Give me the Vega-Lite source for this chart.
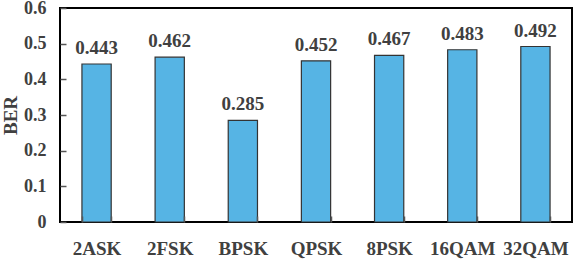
{
  "$schema": "https://vega.github.io/schema/vega-lite/v6.json",
  "autosize": "none",
  "width": 512,
  "height": 214,
  "padding": {"left": 60, "top": 8, "right": 2, "bottom": 37},
  "background": "white",
  "config": {
    "view": {"stroke": "#000000", "strokeWidth": 2},
    "font": "Liberation Serif"
  },
  "data": {
    "values": [
      {"mod": "2ASK", "ber": 0.443},
      {"mod": "2FSK", "ber": 0.462},
      {"mod": "BPSK", "ber": 0.285},
      {"mod": "QPSK", "ber": 0.452},
      {"mod": "8PSK", "ber": 0.467},
      {"mod": "16QAM", "ber": 0.483},
      {"mod": "32QAM", "ber": 0.492}
    ]
  },
  "encoding": {
    "x": {
      "field": "mod",
      "type": "nominal",
      "sort": null,
      "scale": {"paddingInner": 0.6, "paddingOuter": 0.3},
      "axis": {
        "title": null,
        "offset": -6,
        "labelAngle": 0,
        "labelFont": "Liberation Serif",
        "labelFontWeight": "bold",
        "labelFontSize": 19,
        "labelColor": "#404040",
        "labelPadding": 17,
        "tickBand": "extent",
        "tickSize": 6,
        "tickColor": "#555555",
        "tickWidth": 1.5,
        "tickOpacity": 1,
        "domain": false,
        "zindex": 1
      }
    },
    "y": {
      "field": "ber",
      "type": "quantitative",
      "scale": {"domain": [0, 0.6]},
      "axis": {
        "title": "BER",
        "offset": -6,
        "titleFont": "Liberation Serif",
        "titleFontWeight": "bold",
        "titleFontSize": 19,
        "titleColor": "#404040",
        "titlePadding": 3,
        "values": [0, 0.1, 0.2, 0.3, 0.4, 0.5, 0.6],
        "format": ".1~f",
        "labelFont": "Liberation Serif",
        "labelFontWeight": "bold",
        "labelFontSize": 18,
        "labelColor": "#404040",
        "labelPadding": 14,
        "tickSize": 6,
        "tickColor": "#555555",
        "tickWidth": 1.5,
        "tickOpacity": 1,
        "grid": false,
        "domain": false,
        "zindex": 1
      }
    }
  },
  "layer": [
    {
      "mark": {"type": "bar", "fill": "#56B4E4", "stroke": "#333333", "strokeWidth": 1.2}
    },
    {
      "mark": {"type": "text", "dy": -10, "baseline": "alphabetic", "font": "Liberation Serif", "fontWeight": "bold", "fontSize": 19, "color": "#404040"},
      "encoding": {"text": {"field": "ber", "type": "quantitative", "format": ".3f"}}
    }
  ]
}
